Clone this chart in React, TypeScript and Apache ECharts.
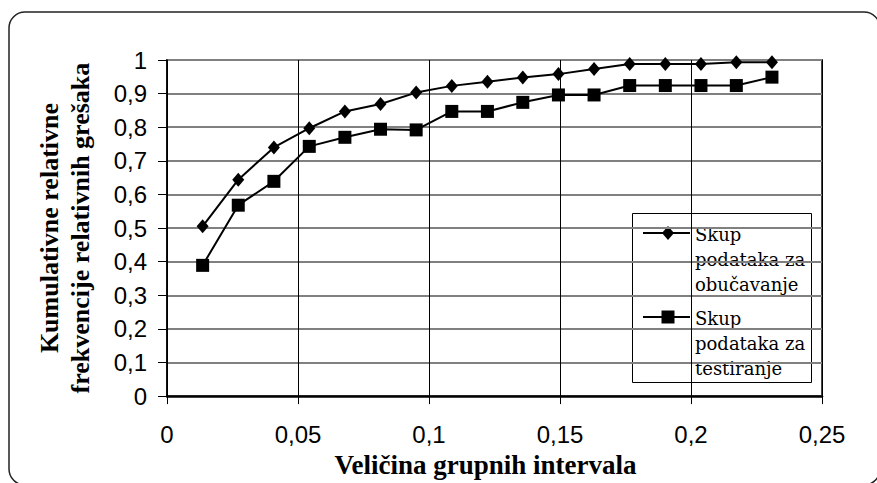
import React, { useEffect, useRef } from "react";
import * as echarts from "echarts";

const xValues = [
  0.0136, 0.0272, 0.0408, 0.0543, 0.0679, 0.0815, 0.0951, 0.1087, 0.1223,
  0.1358, 0.1494, 0.163, 0.1766, 0.1902, 0.2038, 0.2173, 0.2309,
];
const trainingValues = [
  0.505, 0.644, 0.74, 0.797, 0.847, 0.869, 0.903, 0.923, 0.935, 0.948, 0.958,
  0.973, 0.988, 0.988, 0.988, 0.993, 0.993,
];
const testingValues = [
  0.389, 0.568, 0.639, 0.743, 0.77, 0.794, 0.792, 0.847, 0.847, 0.874, 0.896,
  0.896, 0.924, 0.924, 0.924, 0.924, 0.949,
];
const seriesNames = ["Skup\npodataka za\nobučavanje", "Skup\npodataka za\ntestiranje"];
const xAxisTitle = "Veličina grupnih intervala";
const yAxisTitle = "Kumulativne relativne\nfrekvencije relativnih grešaka";

const fmt = (v: number) => String(Number(v.toFixed(2))).replace(".", ",");

export default function App() {
  const ref = useRef<HTMLDivElement>(null);
  useEffect(() => {
    if (!ref.current) return;
    const chart = echarts.init(ref.current, null, { renderer: "svg" });
    const legendText = {
      fill: "#000",
      font: '18px "DejaVu Serif"',
      lineHeight: 25,
      verticalAlign: "top",
      align: "left",
    };
    chart.setOption({
      animation: false,
      backgroundColor: "#fff",
      grid: {
        left: 167,
        right: 55,
        top: 60,
        bottom: 86,
        show: true,
        borderColor: "#444",
        borderWidth: 2,
        backgroundColor: "transparent",
      },
      xAxis: {
        type: "value",
        min: 0,
        max: 0.25,
        interval: 0.05,
        name: xAxisTitle,
        nameLocation: "middle",
        nameGap: 47,
        nameTextStyle: {
          fontFamily: "Liberation Serif",
          fontWeight: "bold",
          fontSize: 27,
          color: "#000",
          padding: [0, 18, 0, 0],
        },
        axisLine: { show: true, lineStyle: { color: "#000", width: 2.5 } },
        axisTick: { show: true, length: 8, lineStyle: { color: "#000", width: 1 } },
        axisLabel: {
          formatter: fmt,
          fontFamily: "Liberation Sans",
          fontSize: 24,
          color: "#000",
          margin: 26,
        },
        splitLine: { show: true, lineStyle: { color: "#000", width: 1 } },
      },
      yAxis: {
        type: "value",
        min: 0,
        max: 1,
        interval: 0.1,
        name: yAxisTitle,
        nameLocation: "middle",
        nameRotate: 90,
        nameGap: 71,
        nameTextStyle: {
          fontFamily: "Liberation Serif",
          fontWeight: "bold",
          fontSize: 26,
          lineHeight: 31,
          color: "#000",
          align: "center",
        },
        axisLine: { show: true, lineStyle: { color: "#000", width: 1.5 } },
        axisTick: { show: true, length: 9, lineStyle: { color: "#000", width: 1 } },
        axisLabel: {
          formatter: fmt,
          fontFamily: "Liberation Sans",
          fontSize: 24,
          color: "#000",
          margin: 20,
        },
        splitLine: { show: true, lineStyle: { color: "#808080", width: 2 } },
      },
      series: [
        {
          name: seriesNames[1],
          type: "line",
          data: xValues.map((x, i) => [x, testingValues[i]]),
          symbol: "rect",
          symbolSize: 13,
          lineStyle: { color: "#000", width: 2 },
          itemStyle: { color: "#000" },
          z: 3,
        },
        {
          name: seriesNames[0],
          type: "line",
          data: xValues.map((x, i) => [x, trainingValues[i]]),
          symbol: "diamond",
          symbolSize: [12, 14],
          lineStyle: { color: "#000", width: 2 },
          itemStyle: { color: "#000" },
          z: 4,
        },
      ],
      graphic: [
        {
          type: "rect",
          z: 0,
          silent: true,
          shape: { x: 9, y: 12, width: 871, height: 473, r: 16 },
          style: { fill: "none", stroke: "#222", lineWidth: 1.5 },
        },
        {
          type: "group",
          z: 100,
          children: [
            {
              type: "rect",
              shape: { x: 632.5, y: 213.5, width: 179, height: 169 },
              style: { fill: "#fff", stroke: "#000", lineWidth: 1 },
            },
            {
              type: "line",
              shape: { x1: 643, y1: 233, x2: 690, y2: 233 },
              style: { stroke: "#000", lineWidth: 2 },
            },
            {
              type: "polygon",
              shape: { points: [[668, 226], [674, 233], [668, 240], [662, 233]] },
              style: { fill: "#000" },
            },
            {
              type: "text",
              x: 695,
              y: 222,
              style: { ...legendText, text: seriesNames[0] },
            },
            {
              type: "line",
              shape: { x1: 643, y1: 317, x2: 690, y2: 317 },
              style: { stroke: "#000", lineWidth: 2 },
            },
            {
              type: "rect",
              shape: { x: 661.5, y: 310.5, width: 13, height: 13 },
              style: { fill: "#000" },
            },
            {
              type: "text",
              x: 695,
              y: 306,
              style: { ...legendText, text: seriesNames[1] },
            },
          ],
        },
      ],
    });
    return () => chart.dispose();
  }, []);
  return (
    <div
      ref={ref}
      style={{ position: "absolute", left: 0, top: 0, width: 877, height: 483 }}
    />
  );
}
